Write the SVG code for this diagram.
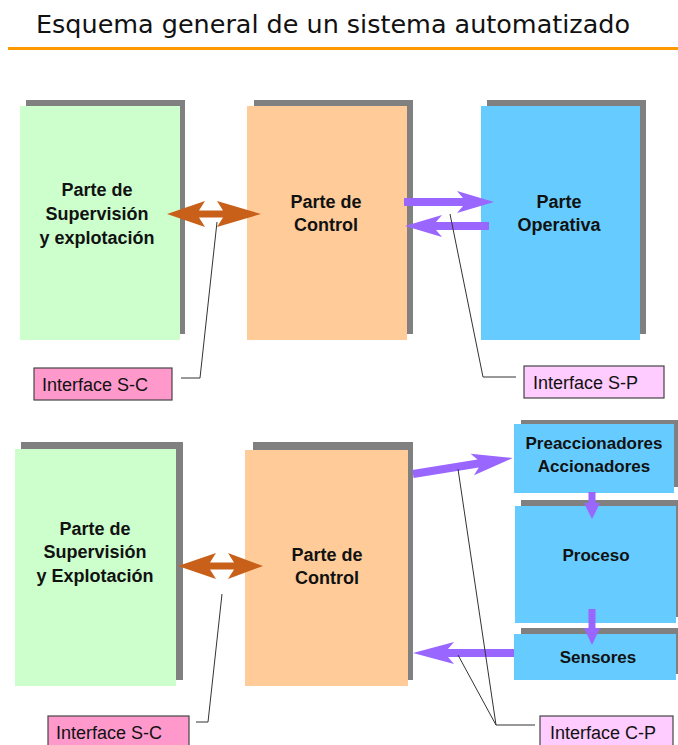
<svg xmlns="http://www.w3.org/2000/svg" width="678" height="745" viewBox="0 0 678 745">
  <style>
    .shadow { fill: #808080; }
    .green { fill: #CCFFCC; }
    .orange { fill: #FFCC99; }
    .blue { fill: #66CCFF; }
    .lbl { font-family: "Liberation Sans", Arial, sans-serif; font-weight: bold; font-size: 18px; fill: #111; text-anchor: middle; }
    .lbl-s { font-family: "Liberation Sans", Arial, sans-serif; font-weight: bold; font-size: 17px; fill: #111; text-anchor: middle; }
    .itf { font-family: "Liberation Sans", Arial, sans-serif; font-size: 18px; fill: #111; }
    .itf-box-a { fill: #FF99CC; stroke: #444; stroke-width: 1.2; }
    .itf-box-b { fill: #FFCCFF; stroke: #444; stroke-width: 1.2; }
    .leader { fill: none; stroke: #333; stroke-width: 1; }
    .brown { fill: #C8601A; }
    .purple { fill: #9966FF; }
  </style>

  <rect width="678" height="745" fill="#ffffff"/>

  <!-- Title -->
  <g id="title">
    <text x="36" y="33" font-family="'DejaVu Sans', Verdana, sans-serif" font-size="25" fill="#111" textLength="594" lengthAdjust="spacingAndGlyphs">Esquema general de un sistema automatizado</text>
    <rect x="8" y="47" width="670" height="3" fill="#FF9900"/>
  </g>

  <!-- Upper scheme -->
  <g id="sup-1">
    <rect class="shadow" x="26" y="100" width="159" height="234"/>
    <rect class="green" x="20" y="106" width="160" height="234"/>
    <text class="lbl" x="97" y="196">Parte de</text>
    <text class="lbl" x="97" y="220">Supervisión</text>
    <text class="lbl" x="97" y="244">y explotación</text>
  </g>
  <g id="ctrl-1">
    <rect class="shadow" x="254" y="100" width="159" height="234"/>
    <rect class="orange" x="247" y="106" width="160" height="234"/>
    <text class="lbl" x="326" y="208">Parte de</text>
    <text class="lbl" x="326" y="231">Control</text>
  </g>
  <g id="oper-1">
    <rect class="shadow" x="487" y="100" width="159" height="234"/>
    <rect class="blue" x="481" y="106" width="159" height="234"/>
    <text class="lbl" x="559" y="208">Parte</text>
    <text class="lbl" x="559" y="231">Operativa</text>
  </g>

  <!-- Lower scheme -->
  <g id="sup-2">
    <rect class="shadow" x="21" y="442" width="162" height="238"/>
    <rect class="green" x="15" y="449" width="161" height="237"/>
    <text class="lbl" x="95" y="535">Parte de</text>
    <text class="lbl" x="95" y="558">Supervisión</text>
    <text class="lbl" x="95" y="582">y Explotación</text>
  </g>
  <g id="ctrl-2">
    <rect class="shadow" x="253" y="442" width="160" height="238"/>
    <rect class="orange" x="245" y="450" width="163" height="236"/>
    <text class="lbl" x="327" y="561">Parte de</text>
    <text class="lbl" x="327" y="584">Control</text>
  </g>
  <g id="preacc">
    <rect class="shadow" x="521" y="420" width="157" height="67"/>
    <rect class="blue" x="514" y="424" width="160" height="69"/>
    <text class="lbl-s" x="594" y="449">Preaccionadores</text>
    <text class="lbl-s" x="594" y="472">Accionadores</text>
  </g>
  <g id="proceso">
    <rect class="shadow" x="521" y="500" width="157" height="117"/>
    <rect class="blue" x="515" y="506" width="161" height="117"/>
    <text class="lbl-s" x="596" y="561">Proceso</text>
  </g>
  <g id="sensores">
    <rect class="shadow" x="521" y="628" width="157" height="46"/>
    <rect class="blue" x="514" y="634" width="162" height="46"/>
    <text class="lbl-s" x="598" y="663">Sensores</text>
  </g>

  <!-- Interface labels -->
  <g id="itf-sc-1">
    <rect class="itf-box-a" x="34" y="368" width="138" height="32"/>
    <text class="itf" x="42" y="391">Interface S-C</text>
  </g>
  <g id="itf-sp">
    <rect class="itf-box-b" x="524" y="366" width="140" height="32"/>
    <text class="itf" x="533" y="389">Interface S-P</text>
  </g>
  <g id="itf-sc-2">
    <rect class="itf-box-a" x="48" y="716" width="141" height="34"/>
    <text class="itf" x="56" y="739">Interface S-C</text>
  </g>
  <g id="itf-cp">
    <rect class="itf-box-b" x="540" y="716" width="133" height="34"/>
    <text class="itf" x="550" y="739">Interface C-P</text>
  </g>

  <!-- Connectors -->
  <g id="connectors">
    <!-- supervision <-> control (upper) -->
    <polygon class="brown" points="167,214 205,201 199,210.5 223,210.5 217,201 261,214 217,227 223,217.5 199,217.5 205,227"/>
    <!-- supervision <-> control (lower) -->
    <polygon class="brown" points="178,566 216,553 210,562.5 234,562.5 228,553 263,566 228,579 234,569.5 210,569.5 216,579"/>

    <!-- control -> operativa -->
    <polygon class="purple" points="404,198 463,198 457,191 494,202 457,213 463,206 404,206"/>
    <!-- operativa -> control -->
    <polygon class="purple" points="489,222 436,222 442,215 405,226 442,237 436,230 489,230"/>

    <!-- control -> preaccionadores (slanted) -->
    <g transform="translate(413,474) rotate(-9.1)">
      <polygon class="purple" points="0,-4 66,-4 60,-11 101,0 60,11 66,4 0,4"/>
    </g>
    <!-- sensores -> control -->
    <polygon class="purple" points="514,649 448,649 454,642 413,653 454,664 448,657 514,657"/>

    <!-- preaccionadores -> proceso -->
    <polygon class="purple" points="588.5,492 595.5,492 595.5,503 600,503 592,519 584,503 588.5,503"/>
    <!-- proceso -> sensores -->
    <polygon class="purple" points="588.5,609 595.5,609 595.5,628 600,628 592,645 584,628 588.5,628"/>

    <!-- interface leaders -->
    <polyline class="leader" points="217,222 200,378 181,378"/>
    <polyline class="leader" points="450,214 483,377 516,377"/>
    <polyline class="leader" points="222,594 208,722 196,722"/>
    <polyline class="leader" points="458,469 496,725 535,725"/>
    <polyline class="leader" points="458,655 496,725"/>
  </g>
</svg>
